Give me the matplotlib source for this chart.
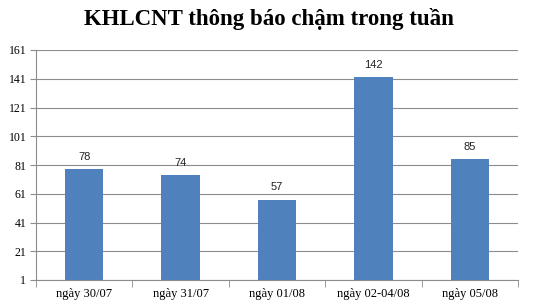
import matplotlib.pyplot as plt
import numpy as np

# Data
days = ['ngày 30/07', 'ngày 31/07', 'ngày 01/08', 'ngày 02-04/08', 'ngày 05/08']
counts = [78, 74, 57, 142, 85]
yticks = [1, 21, 41, 61, 81, 101, 121, 141, 161]

plt.rcParams['font.family'] = ['Liberation Serif', 'DejaVu Serif']

fig = plt.figure(figsize=(5.38, 3.08), dpi=100)
ax = fig.add_axes([36 / 538, 1 - 280 / 308, 482 / 538, 230 / 308])

x = np.arange(len(days))
base = yticks[0]
bars = ax.bar(x, np.array(counts) - base, bottom=base, width=0.4,
              color='#4f81bd', zorder=3)

# value labels above bars
for xi, v in zip(x, counts):
    ax.text(xi, v + 5, str(v), ha='center', va='bottom', fontsize=8,
            family=['Liberation Sans', 'DejaVu Sans'], color='#222222')

ax.set_xlim(-0.5, len(days) - 0.5)
ax.set_ylim(yticks[0], yticks[-1])
ax.set_yticks(yticks)
ax.set_yticklabels([str(t) for t in yticks], fontsize=8.5)
ax.yaxis.grid(True, color='#8c8c8c', linewidth=0.8, zorder=0)
ax.tick_params(axis='y', length=4, color='#8c8c8c', pad=3)

# category labels centred, tick marks at category boundaries
ax.set_xticks(x)
ax.set_xticklabels(days, fontsize=9)
ax.tick_params(axis='x', length=0, pad=6)
ax.set_xticks(np.arange(-0.5, len(days)), minor=True)
ax.tick_params(axis='x', which='minor', length=5, color='#8c8c8c')

for side in ['top', 'right']:
    ax.spines[side].set_visible(False)
ax.spines['left'].set_color('#8c8c8c')
ax.spines['bottom'].set_color('#8c8c8c')

fig.text(0.5, 1 - 19 / 308, 'KHLCNT thông báo chậm trong tuần', ha='center',
         va='center', fontsize=16.5, fontweight='bold')

fig.savefig('out.png', dpi=100)
